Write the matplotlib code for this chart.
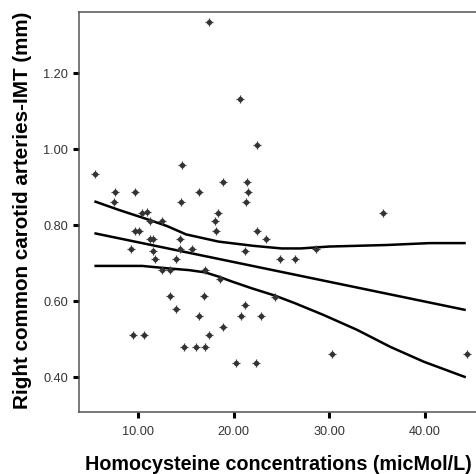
import matplotlib
matplotlib.use("Agg")
import matplotlib.pyplot as plt

plt.rcParams['font.family'] = ['Liberation Sans', 'DejaVu Sans']

# Scatter data: homocysteine (micMol/L) vs right CCA-IMT (mm)
hcy = [5.5, 7.6, 7.5, 9.7, 14.6, 14.45, 16.4, 18.9, 17.45, 10.4, 10.9, 12.5, 11.2,
       18.3, 18.0, 18.15, 9.7, 10.05, 11.2, 11.5, 14.4, 20.65, 22.4, 21.4, 21.5,
       21.25, 35.6, 22.4, 23.4, 9.25, 11.55, 14.35, 11.7, 13.9, 12.45, 13.3, 15.66,
       21.2, 24.87, 26.4, 16.98, 18.56, 13.35, 13.95, 16.85, 16.4, 9.4, 10.6, 14.8,
       16.0, 16.98, 17.4, 18.9, 20.2, 22.36, 21.2, 20.76, 22.85, 24.35, 28.65,
       30.26, 44.4]
imt = [0.935, 0.887, 0.860, 0.887, 0.959, 0.860, 0.887, 0.914, 1.335, 0.832, 0.834,
       0.810, 0.810, 0.832, 0.810, 0.786, 0.786, 0.784, 0.765, 0.765, 0.765, 1.132,
       1.011, 0.913, 0.887, 0.860, 0.832, 0.784, 0.764, 0.738, 0.731, 0.738, 0.712,
       0.712, 0.682, 0.682, 0.738, 0.731, 0.711, 0.711, 0.681, 0.658, 0.613, 0.580,
       0.613, 0.561, 0.511, 0.511, 0.480, 0.480, 0.480, 0.511, 0.532, 0.437, 0.437,
       0.589, 0.561, 0.561, 0.612, 0.737, 0.461, 0.461]

# Fit line and confidence curves
fit_x = [5.4, 44.3]
fit_y = [0.779, 0.577]
upper_x = [5.4, 8.0, 10.8, 13.0, 15.0, 18.4, 22.0, 25.0, 27.0, 30.0, 36.0, 40.5, 44.3]
upper_y = [0.863, 0.840, 0.817, 0.798, 0.776, 0.757, 0.746, 0.739, 0.739, 0.744, 0.748, 0.753, 0.753]
lower_x = [5.4, 10.4, 12.9, 15.3, 17.0, 18.4, 19.8, 21.9, 24.3, 26.4, 29.4, 32.9, 36.4, 39.9, 44.3]
lower_y = [0.693, 0.693, 0.687, 0.682, 0.676, 0.665, 0.652, 0.634, 0.615, 0.595, 0.564, 0.525, 0.480, 0.441, 0.400]

xticks = [10, 20, 30, 40]
yticks = [0.40, 0.60, 0.80, 1.00, 1.20]
xtick_labels = ["10.00", "20.00", "30.00", "40.00"]
ytick_labels = ["0.40", "0.60", "0.80", "1.00", "1.20"]

W, H = 476, 474
fig = plt.figure(figsize=(W / 100, H / 100), dpi=100)
ax = fig.add_axes([79 / W, 1 - 411.7 / H, 1 - 79 / W, (411.7 - 12) / H])

ax.plot(fit_x, fit_y, color='black', lw=1.8, solid_capstyle='butt')
ax.plot(upper_x, upper_y, color='black', lw=1.8, solid_capstyle='butt')
ax.plot(lower_x, lower_y, color='black', lw=1.8, solid_capstyle='butt')

ax.plot(hcy, imt, linestyle='none', marker='+', markersize=5.5, mew=0.9, color='#444444')
ax.plot(hcy, imt, linestyle='none', marker='o', markersize=3.8, mew=0, color='#333333')

ax.set_xlim(3.79, 45.37)
ax.set_ylim(0.3095, 1.361)
ax.set_xticks(xticks)
ax.set_xticklabels(xtick_labels)
ax.set_yticks(yticks)
ax.set_yticklabels(ytick_labels)
ax.tick_params(axis='both', direction='out', length=4.5, width=2.2, color='black',
               labelsize=9.2, labelcolor='#333333')
ax.tick_params(axis='x', pad=6)
ax.tick_params(axis='y', pad=3.5)

for s in ['left', 'top', 'bottom']:
    ax.spines[s].set_color('#555555')
    ax.spines[s].set_linewidth(1.1)
ax.spines['right'].set_visible(False)

fig.text(278 / W, 1 - 464 / H, "Homocysteine concentrations (micMol/L)", ha='center', va='center',
         fontsize=14.2, fontweight='bold', color='black')
fig.text(22.5 / W, 1 - 210.5 / H, "Right common carotid arteries-IMT (mm)", ha='center', va='center',
         rotation=90, fontsize=14.9, fontweight='bold', color='black')

fig.savefig("out.png", dpi=100)
